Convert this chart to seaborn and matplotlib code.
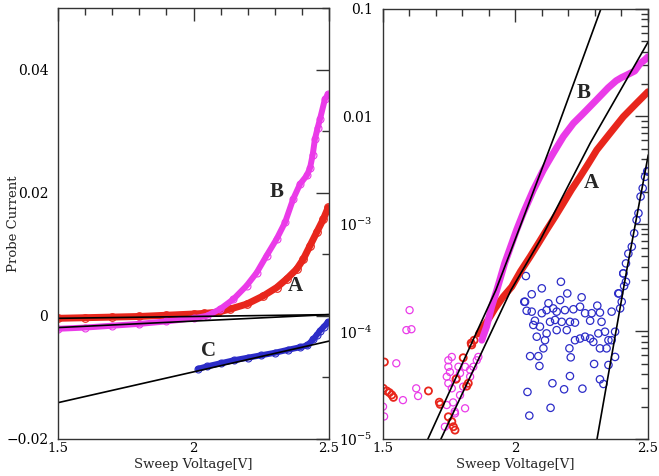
import numpy as np
import matplotlib
matplotlib.use("Agg")
import matplotlib.pyplot as plt
from matplotlib.ticker import MultipleLocator, FixedLocator, FixedFormatter, LogLocator, NullFormatter
import seaborn as sns

# === data ===
# left panel (linear current)
a_lin_x = [1.50, 1.60, 1.70, 1.80, 1.90, 2.00, 2.04, 2.09, 2.135, 2.196, 2.258, 2.307,
           2.344, 2.381, 2.405, 2.430, 2.455, 2.479, 2.497]
a_lin_y = [-0.0004, -0.0003, -0.0002, -0.0001, 0.0001, 0.0003, 0.0004, 0.0006, 0.0011,
           0.0019, 0.00325, 0.0046, 0.0060, 0.0076, 0.0092, 0.0114, 0.0136, 0.0157, 0.0176]

b_lin_x = [1.50, 1.60, 1.70, 1.80, 1.90, 2.00, 2.049, 2.098, 2.147, 2.196, 2.233, 2.270,
           2.307, 2.338, 2.368, 2.393, 2.418, 2.430, 2.440, 2.448, 2.458, 2.467, 2.485, 2.497]
b_lin_y = [-0.0021, -0.0019, -0.0016, -0.0013, -0.0009, -0.0004, 0.0, 0.0011, 0.0027,
           0.0049, 0.0070, 0.0098, 0.0125, 0.0152, 0.0190, 0.0214, 0.0228, 0.0240, 0.0262,
           0.0287, 0.0305, 0.0320, 0.0352, 0.0360]

c_lin_x = [2.017, 2.05, 2.10, 2.15, 2.20, 2.25, 2.30, 2.35, 2.393, 2.42, 2.442, 2.455,
           2.467, 2.480, 2.497]
c_lin_y = [-0.0086, -0.0082, -0.0077, -0.0072, -0.0068, -0.0064, -0.0060, -0.0055,
           -0.0051, -0.0048, -0.0038, -0.0031, -0.0024, -0.0018, -0.0010]

# fitted lines, left panel (end points)
fit_a_lin_x = [1.5, 2.5]
fit_a_lin_y = [-0.0004, 0.0002]
fit_b_lin_x = [1.5, 2.5]
fit_b_lin_y = [-0.0019, 0.0002]
fit_c_lin_x = [1.5, 2.5]
fit_c_lin_y = [-0.0141, -0.0041]

# right panel (log current), smooth parts
a_log_x = [1.861, 1.880, 1.905, 1.924, 1.955, 1.987, 2.020, 2.056, 2.087, 2.118, 2.150,
           2.181, 2.212, 2.244, 2.275, 2.307, 2.357, 2.407, 2.457, 2.500]
a_log_y = [9.5e-5, 1.11e-4, 1.37e-4, 1.64e-4, 2.11e-4, 2.61e-4, 3.63e-4, 4.97e-4, 6.6e-4,
           8.8e-4, 1.17e-3, 1.56e-3, 2.09e-3, 2.75e-3, 3.63e-3, 4.88e-3, 6.98e-3, 9.95e-3,
           1.33e-2, 1.70e-2]

b_log_x = [1.874, 1.892, 1.911, 1.930, 1.960, 2.005, 2.030, 2.068, 2.106, 2.143, 2.181,
           2.219, 2.250, 2.290, 2.320, 2.350, 2.380, 2.400, 2.420, 2.450, 2.470, 2.490, 2.500]
b_log_y = [8.3e-5, 1.11e-4, 1.7e-4, 2.4e-4, 4.3e-4, 8.8e-4, 1.26e-3, 2.07e-3, 3.18e-3,
           4.55e-3, 6.5e-3, 8.65e-3, 1.03e-2, 1.3e-2, 1.55e-2, 1.85e-2, 2.15e-2, 2.3e-2,
           2.43e-2, 2.65e-2, 3.1e-2, 3.4e-2, 3.6e-2]

# right panel, noisy points
a_noise_x = [1.503, 1.507, 1.516, 1.526, 1.535, 1.541, 1.673, 1.714, 1.717, 1.748, 1.761,
             1.767, 1.773, 1.777, 1.804, 1.817, 1.823, 1.834, 1.836, 1.845]
a_noise_y = [2.96e-5, 5.2e-5, 2.8e-5, 2.7e-5, 2.57e-5, 2.44e-5, 2.8e-5, 2.2e-5, 2.1e-5,
             1.61e-5, 1.45e-5, 1.3e-5, 1.21e-5, 3.6e-5, 5.7e-5, 3.1e-5, 3.3e-5, 7.8e-5,
             7.5e-5, 8.3e-5]

b_noise_x = [1.502, 1.506, 1.552, 1.577, 1.590, 1.602, 1.609, 1.627, 1.634, 1.735, 1.742,
             1.742, 1.748, 1.748, 1.748, 1.754, 1.761, 1.761, 1.773, 1.780, 1.786, 1.792,
             1.792, 1.804, 1.811, 1.811, 1.830, 1.830, 1.842, 1.855, 1.861, 1.766, 1.772]
b_noise_y = [2.0e-5, 1.62e-5, 5.06e-5, 2.3e-5, 1.03e-4, 1.58e-4, 1.05e-4, 2.96e-5, 2.51e-5,
             1.3e-5, 3.8e-5, 2.07e-5, 5.4e-5, 4.7e-5, 3.3e-5, 4.2e-5, 5.8e-5, 2.96e-5,
             1.73e-5, 3.7e-5, 4.7e-5, 4.1e-5, 2.56e-5, 3.07e-5, 4.7e-5, 1.93e-5, 4.4e-5,
             3.8e-5, 4.7e-5, 5.4e-5, 5.8e-5, 2.19e-5, 1.8e-5]

c_noise_x = [2.034, 2.037, 2.040, 2.043, 2.046, 2.053, 2.056, 2.062, 2.062, 2.068, 2.074,
             2.081, 2.087, 2.091, 2.093, 2.100, 2.100, 2.106, 2.112, 2.118, 2.118, 2.125,
             2.131, 2.133, 2.140, 2.143, 2.150, 2.156, 2.156, 2.169, 2.172, 2.175, 2.184,
             2.187, 2.194, 2.196, 2.204, 2.206, 2.206, 2.209, 2.219, 2.225, 2.225, 2.244,
             2.244, 2.250, 2.253, 2.263, 2.263, 2.282, 2.282, 2.288, 2.294, 2.297, 2.309,
             2.313, 2.319, 2.319, 2.319, 2.325, 2.332, 2.338, 2.344, 2.351, 2.351, 2.363,
             2.363, 2.376, 2.376, 2.388, 2.391, 2.395, 2.401, 2.407]
c_noise_y = [1.89e-4, 1.89e-4, 3.28e-4, 1.56e-4, 2.74e-5, 1.65e-5, 5.9e-5, 2.22e-4, 1.53e-4,
             1.15e-4, 1.26e-4, 8.95e-5, 5.9e-5, 4.78e-5, 1.11e-4, 2.52e-4, 1.48e-4, 6.97e-5,
             8.3e-5, 1.58e-4, 9.6e-5, 1.83e-4, 1.23e-4, 1.95e-5, 3.3e-5, 1.64e-4, 1.28e-4,
             1.53e-4, 1.03e-4, 1.96e-4, 2.9e-4, 1.23e-4, 2.9e-5, 1.58e-4, 1.03e-4, 2.26e-4,
             6.97e-5, 1.23e-4, 3.85e-5, 5.75e-5, 1.61e-4, 1.21e-4, 8.3e-5, 1.7e-4, 8.6e-5,
             2.08e-4, 2.94e-5, 1.48e-4, 8.95e-5, 1.26e-4, 8.6e-5, 1.48e-4, 8.0e-5, 4.99e-5,
             1.74e-4, 9.6e-5, 1.5e-4, 6.97e-5, 3.59e-5, 1.23e-4, 3.25e-5, 9.95e-5, 6.97e-5,
             8.3e-5, 4.88e-5, 1.53e-4, 8.3e-5, 5.8e-5, 9.95e-5, 2.26e-4, 2.26e-4, 1.64e-4,
             1.89e-4, 3.47e-4]

c_rise_x = [2.407, 2.410, 2.417, 2.417, 2.426, 2.439, 2.448, 2.457, 2.464, 2.472, 2.480,
            2.489, 2.497, 2.501]
c_rise_y = [3.47e-4, 2.65e-4, 2.9e-4, 4.3e-4, 5.3e-4, 6.15e-4, 8.2e-4, 1.09e-3, 1.26e-3,
            1.8e-3, 2.15e-3, 2.75e-3, 3.1e-3, 3.07e-3]

# fitted lines, right panel
fit_a_log_x = [1.720, 1.984, 2.095, 2.282, 2.501]
fit_a_log_y = [1.0e-5, 2.43e-4, 7.16e-4, 5.64e-3, 4.97e-2]
fit_b_log_x = [1.671, 1.927, 1.999, 2.156, 2.322]
fit_b_log_y = [1.0e-5, 2.43e-4, 7.1e-4, 7.48e-3, 9.93e-2]
fit_c_log_x = [2.308, 2.420, 2.501]
fit_c_log_y = [1.0e-5, 3.73e-4, 4.39e-3]

RED = "#e8261c"
MAG = "#ea3be8"
BLUE = "#2c2cc8"

sns.set_style("white")
plt.rcParams["font.family"] = ["DejaVu Serif"]
plt.rcParams["mathtext.fontset"] = "dejavuserif"
plt.rcParams["axes.edgecolor"] = "#333333"
plt.rcParams["axes.linewidth"] = 1.0

fig = plt.figure(figsize=(6.59, 4.76), dpi=100)
ax1 = fig.add_axes([58 / 659, 37 / 476, 271 / 659, 431 / 476])
ax2 = fig.add_axes([382.5 / 659, 37 / 476, 265.5 / 659, 430 / 476])

# --- left: linear ---
sns.lineplot(x=a_lin_x, y=a_lin_y, ax=ax1, color=RED, linewidth=5.0, estimator=None,
             sort=False, marker="o", markersize=5.5, markerfacecolor="none",
             markeredgecolor=RED, markeredgewidth=0.8)
sns.lineplot(x=b_lin_x, y=b_lin_y, ax=ax1, color=MAG, linewidth=4.3, estimator=None,
             sort=False, marker="o", markersize=5, markerfacecolor="none",
             markeredgecolor=MAG, markeredgewidth=0.8)
sns.lineplot(x=c_lin_x, y=c_lin_y, ax=ax1, color=BLUE, linewidth=4.3, estimator=None,
             sort=False, marker="o", markersize=5, markerfacecolor="none",
             markeredgecolor=BLUE, markeredgewidth=0.8)
for fx, fy in [(fit_a_lin_x, fit_a_lin_y), (fit_b_lin_x, fit_b_lin_y), (fit_c_lin_x, fit_c_lin_y)]:
    sns.lineplot(x=fx, y=fy, ax=ax1, color="black", linewidth=1.2, estimator=None, sort=False)

ax1.set_xlim(1.5, 2.5)
ax1.set_ylim(-0.02, 0.05)
ax1.xaxis.set_major_locator(FixedLocator([1.5, 2.0, 2.5]))
ax1.xaxis.set_major_formatter(FixedFormatter(["1.5", "2", "2.5"]))
ax1.xaxis.set_minor_locator(MultipleLocator(0.1))
ax1.yaxis.set_major_locator(FixedLocator([-0.02, 0.0, 0.02, 0.04]))
ax1.yaxis.set_major_formatter(FixedFormatter(["\u22120.02", "0", "0.02", "0.04"]))
ax1.yaxis.set_minor_locator(MultipleLocator(0.01))

ax1.text(2.308, 0.0201, "B", fontsize=15, fontweight="bold", family="Liberation Serif",
         ha="center", va="center")
ax1.text(2.375, 0.0049, "A", fontsize=15, fontweight="bold", family="Liberation Serif",
         ha="center", va="center")
ax1.text(2.055, -0.0057, "C", fontsize=15, fontweight="bold", family="Liberation Serif",
         ha="center", va="center")
ax1.set_ylabel("Probe Current", fontsize=9.5)
ax1.yaxis.set_label_coords(-0.141, 0.5)

# --- right: log ---
ax2.set_yscale("log")
sns.scatterplot(x=b_noise_x, y=b_noise_y, ax=ax2, marker="o", s=26, color=MAG,
                facecolor="none", edgecolor=MAG, linewidth=0.9)
sns.scatterplot(x=a_noise_x, y=a_noise_y, ax=ax2, marker="o", s=26, color=RED,
                facecolor="none", edgecolor=RED, linewidth=1.3)
sns.scatterplot(x=c_noise_x, y=c_noise_y, ax=ax2, marker="o", s=28, color=BLUE,
                facecolor="none", edgecolor=BLUE, linewidth=0.9)
sns.scatterplot(x=c_rise_x, y=c_rise_y, ax=ax2, marker="o", s=28, color=BLUE,
                facecolor="none", edgecolor=BLUE, linewidth=0.9)
sns.lineplot(x=a_log_x, y=a_log_y, ax=ax2, color=RED, linewidth=5.0, estimator=None,
             sort=False)
sns.lineplot(x=b_log_x, y=b_log_y, ax=ax2, color=MAG, linewidth=5.0, estimator=None,
             sort=False)
for fx, fy in [(fit_a_log_x, fit_a_log_y), (fit_b_log_x, fit_b_log_y), (fit_c_log_x, fit_c_log_y)]:
    sns.lineplot(x=fx, y=fy, ax=ax2, color="black", linewidth=1.2, estimator=None, sort=False)

ax2.set_xlim(1.5, 2.5)
ax2.set_ylim(1e-5, 0.1)
ax2.xaxis.set_major_locator(FixedLocator([1.5, 2.0, 2.5]))
ax2.xaxis.set_major_formatter(FixedFormatter(["1.5", "2", "2.5"]))
ax2.xaxis.set_minor_locator(MultipleLocator(0.1))
ax2.yaxis.set_major_locator(FixedLocator([1e-5, 1e-4, 1e-3, 1e-2, 1e-1]))
ax2.yaxis.set_major_formatter(FixedFormatter(["$10^{-5}$", "$10^{-4}$", "$10^{-3}$", "0.01", "0.1"]))
ax2.yaxis.set_minor_locator(LogLocator(base=10, subs=np.arange(2, 10), numticks=20))
ax2.yaxis.set_minor_formatter(NullFormatter())

ax2.text(2.259, 0.0164, "B", fontsize=15, fontweight="bold", family="Liberation Serif",
         ha="center", va="center")
ax2.text(2.288, 0.00242, "A", fontsize=15, fontweight="bold", family="Liberation Serif",
         ha="center", va="center")

for ax in (ax1, ax2):
    ax.tick_params(which="both", direction="in", top=True, right=True, colors="#333333",
                   labelcolor="black", labelsize=10)
    ax.tick_params(which="major", length=9.5, width=1.0)
    ax.tick_params(which="minor", length=5, width=1.0)
    ax.tick_params(axis="y", pad=7)
    ax.tick_params(axis="x", pad=2.5, labelsize=9.5)
    ax.set_xlabel("Sweep Voltage[V]", fontsize=9.5)
    ax.xaxis.set_label_coords(0.5, -0.045)

fig.savefig("out.png", dpi=100)
